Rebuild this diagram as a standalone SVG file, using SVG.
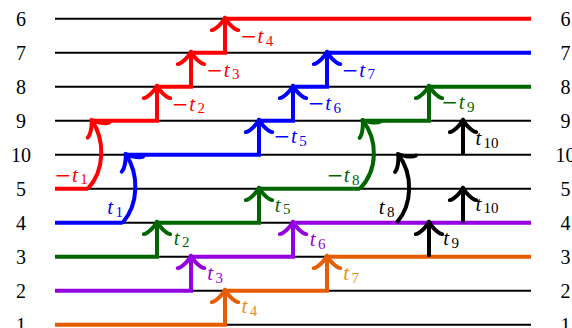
<svg xmlns="http://www.w3.org/2000/svg" xmlns:xlink="http://www.w3.org/1999/xlink" width="572" height="328" viewBox="0 0 572 328">
<style>
.row{font-family:"Liberation Serif",serif;font-size:20px;fill:#000;text-anchor:middle}
.lbl{font-family:"Liberation Serif",serif;font-size:20px}
.m{font-family:"DejaVu Serif",serif;font-size:20px}
.t{font-style:italic;font-size:21px}
.s{font-size:15px}
.hl{stroke:#000;stroke-width:2;fill:none}
.p{fill:none;stroke-width:4;stroke-linejoin:miter}
.c{fill:none;stroke-width:4;stroke-linecap:butt}
.ah{fill:none;stroke-width:4;stroke-linecap:round;stroke-linejoin:round}
.red{stroke:#ff0000}.blue{stroke:#0000ff}.green{stroke:#006600}.purple{stroke:#9400e0}.orange{stroke:#e65c00}.black{stroke:#000}
</style>
<defs>
<path id="ah" d="M-13.2,11.4 C-8.25,10.6 -0.8,1.5 0,-1 C0.8,1.5 8.25,10.6 13.2,11.4"/>
</defs>
<g id="rows">
<g class="hl">
<line x1="55" y1="18.7" x2="531" y2="18.7"/>
<line x1="55" y1="52.7" x2="531" y2="52.7"/>
<line x1="55" y1="86.7" x2="531" y2="86.7"/>
<line x1="55" y1="120.7" x2="531" y2="120.7"/>
<line x1="55" y1="154.7" x2="531" y2="154.7"/>
<line x1="55" y1="188.7" x2="531" y2="188.7"/>
<line x1="55" y1="222.7" x2="531" y2="222.7"/>
<line x1="55" y1="256.7" x2="531" y2="256.7"/>
<line x1="55" y1="290.7" x2="531" y2="290.7"/>
<line x1="55" y1="324.7" x2="531" y2="324.7"/>
</g>
<g id="row-labels-left">
<text class="row" x="21" y="26">6</text>
<text class="row" x="21" y="60">7</text>
<text class="row" x="21" y="94">8</text>
<text class="row" x="21" y="128">9</text>
<text class="row" x="21" y="162">10</text>
<text class="row" x="21" y="196">5</text>
<text class="row" x="21" y="230">4</text>
<text class="row" x="21" y="264">3</text>
<text class="row" x="21" y="298">2</text>
<text class="row" x="21" y="332">1</text>
</g>
<g id="row-labels-right">
<text class="row" x="565.5" y="26">6</text>
<text class="row" x="565.5" y="60">7</text>
<text class="row" x="565.5" y="94">8</text>
<text class="row" x="565.5" y="128">9</text>
<text class="row" x="565.5" y="162">10</text>
<text class="row" x="565.5" y="196">5</text>
<text class="row" x="565.5" y="230">4</text>
<text class="row" x="565.5" y="264">3</text>
<text class="row" x="565.5" y="298">2</text>
<text class="row" x="565.5" y="332">1</text>
</g>
</g>
<g id="connectors">
<g id="orange-path">
<path class="p orange" d="M55,324.7 H225 V290.7 H327 V256.7 H531"/>
<use xlink:href="#ah" class="ah orange" x="225" y="290.7"/>
<use xlink:href="#ah" class="ah orange" x="327" y="256.7"/>
</g>
<g id="purple-path">
<path class="p purple" d="M55,290.7 H191 V256.7 H293 V222.7 H531"/>
<use xlink:href="#ah" class="ah purple" x="191" y="256.7"/>
<use xlink:href="#ah" class="ah purple" x="293" y="222.7"/>
</g>
<g id="green-path">
<path class="p green" d="M55,256.7 H157 V222.7 H259 V188.7 H360"/>
<path class="c green" d="M360,188.7 C378,170 378,140 363,120.7"/>
<path class="p green" d="M363,120.7 H429 V86.7 H531"/>
<use xlink:href="#ah" class="ah green" x="157" y="222.7"/>
<use xlink:href="#ah" class="ah green" x="259" y="188.7"/>
<use xlink:href="#ah" class="ah green" x="429" y="86.7"/>
<use xlink:href="#ah" class="ah green" transform="translate(363,120.7) rotate(-38)"/>
</g>
<g id="blue-path">
<path class="p blue" d="M55,222.7 H122.7"/>
<path class="c blue" d="M122.7,222.7 C139,204 139,174 126,154.7"/>
<path class="p blue" d="M126,154.7 H259 V120.7 H293 V86.7 H327 V52.7 H531"/>
<use xlink:href="#ah" class="ah blue" x="259" y="120.7"/>
<use xlink:href="#ah" class="ah blue" x="293" y="86.7"/>
<use xlink:href="#ah" class="ah blue" x="327" y="52.7"/>
<use xlink:href="#ah" class="ah blue" transform="translate(126,154.7) rotate(-35)"/>
</g>
<g id="red-path">
<path class="p red" d="M55,188.7 H88"/>
<path class="c red" d="M88,188.7 C105,170 105,140 92,120.7"/>
<path class="p red" d="M92,120.7 H157 V86.7 H191 V52.7 H225 V18.7 H531"/>
<use xlink:href="#ah" class="ah red" x="157" y="86.7"/>
<use xlink:href="#ah" class="ah red" x="191" y="52.7"/>
<use xlink:href="#ah" class="ah red" x="225" y="18.7"/>
<use xlink:href="#ah" class="ah red" transform="translate(92,120.7) rotate(-35)"/>
</g>
<g id="black-arrows">
<path class="p black" d="M429,256.7 V222.7"/>
<path class="p black" d="M463,222.7 V188.7"/>
<path class="p black" d="M463,154.7 V120.7"/>
<path class="c black" d="M396.7,222.7 C413,204 413,174 398.5,154.7"/>
<use xlink:href="#ah" class="ah black" x="429" y="222.7"/>
<use xlink:href="#ah" class="ah black" x="463" y="188.7"/>
<use xlink:href="#ah" class="ah black" x="463" y="120.7"/>
<use xlink:href="#ah" class="ah black" transform="translate(398.5,154.7) rotate(-38)"/>
</g>
</g>
<g id="labels">
<g fill="#ff0000">
<text class="lbl" y="181.5"><tspan class="m" x="54.5">−</tspan><tspan class="t" x="72">t</tspan><tspan class="s" x="80.3" dy="2.5">1</tspan></text>
<text class="lbl" y="110.7"><tspan class="m" x="171.8">−</tspan><tspan class="t" x="189.3">t</tspan><tspan class="s" x="197.6" dy="2.5">2</tspan></text>
<text class="lbl" y="76.7"><tspan class="m" x="206.2">−</tspan><tspan class="t" x="223.7">t</tspan><tspan class="s" x="232" dy="2.5">3</tspan></text>
<text class="lbl" y="43"><tspan class="m" x="240.2">−</tspan><tspan class="t" x="257.5">t</tspan><tspan class="s" x="265.8" dy="2.5">4</tspan></text>
</g>
<g fill="#0000ff">
<text class="lbl" y="214"><tspan class="t" x="107.2">t</tspan><tspan class="s" x="115.5" dy="2.5">1</tspan></text>
<text class="lbl" y="143.3"><tspan class="m" x="273.5">−</tspan><tspan class="t" x="291">t</tspan><tspan class="s" x="299.3" dy="2.5">5</tspan></text>
<text class="lbl" y="110"><tspan class="m" x="307.8">−</tspan><tspan class="t" x="325.3">t</tspan><tspan class="s" x="333.6" dy="2.5">6</tspan></text>
<text class="lbl" y="76.7"><tspan class="m" x="341.8">−</tspan><tspan class="t" x="359.3">t</tspan><tspan class="s" x="367.6" dy="2.5">7</tspan></text>
</g>
<g fill="#006600">
<text class="lbl" y="244.5"><tspan class="t" x="173.8">t</tspan><tspan class="s" x="182" dy="2.5">2</tspan></text>
<text class="lbl" y="211.7"><tspan class="t" x="274.8">t</tspan><tspan class="s" x="283" dy="2.5">5</tspan></text>
<text class="lbl" y="182"><tspan class="m" x="326.8">−</tspan><tspan class="t" x="343.8">t</tspan><tspan class="s" x="352" dy="2.5">8</tspan></text>
<text class="lbl" y="109.3"><tspan class="m" x="441.2">−</tspan><tspan class="t" x="458.8">t</tspan><tspan class="s" x="467" dy="2.5">9</tspan></text>
</g>
<g fill="#9400e0">
<text class="lbl" y="280"><tspan class="t" x="207.2">t</tspan><tspan class="s" x="215.4" dy="2.5">3</tspan></text>
<text class="lbl" y="246"><tspan class="t" x="309.8">t</tspan><tspan class="s" x="318" dy="2.5">6</tspan></text>
</g>
<g fill="#f08c1a">
<text class="lbl" y="313.3"><tspan class="t" x="241.5">t</tspan><tspan class="s" x="249.7" dy="2.5">4</tspan></text>
<text class="lbl" y="280"><tspan class="t" x="343.2">t</tspan><tspan class="s" x="351.4" dy="2.5">7</tspan></text>
</g>
<g fill="#000">
<text class="lbl" y="214"><tspan class="t" x="378.8">t</tspan><tspan class="s" x="387" dy="2.5">8</tspan></text>
<text class="lbl" y="245"><tspan class="t" x="443.2">t</tspan><tspan class="s" x="451.4" dy="2.5">9</tspan></text>
<text class="lbl" y="145"><tspan class="t" x="475.5">t</tspan><tspan class="s" x="483.5" dy="2.5">10</tspan></text>
<text class="lbl" y="210.5"><tspan class="t" x="475.5">t</tspan><tspan class="s" x="483.5" dy="2.5">10</tspan></text>
</g>
</g>
</svg>
